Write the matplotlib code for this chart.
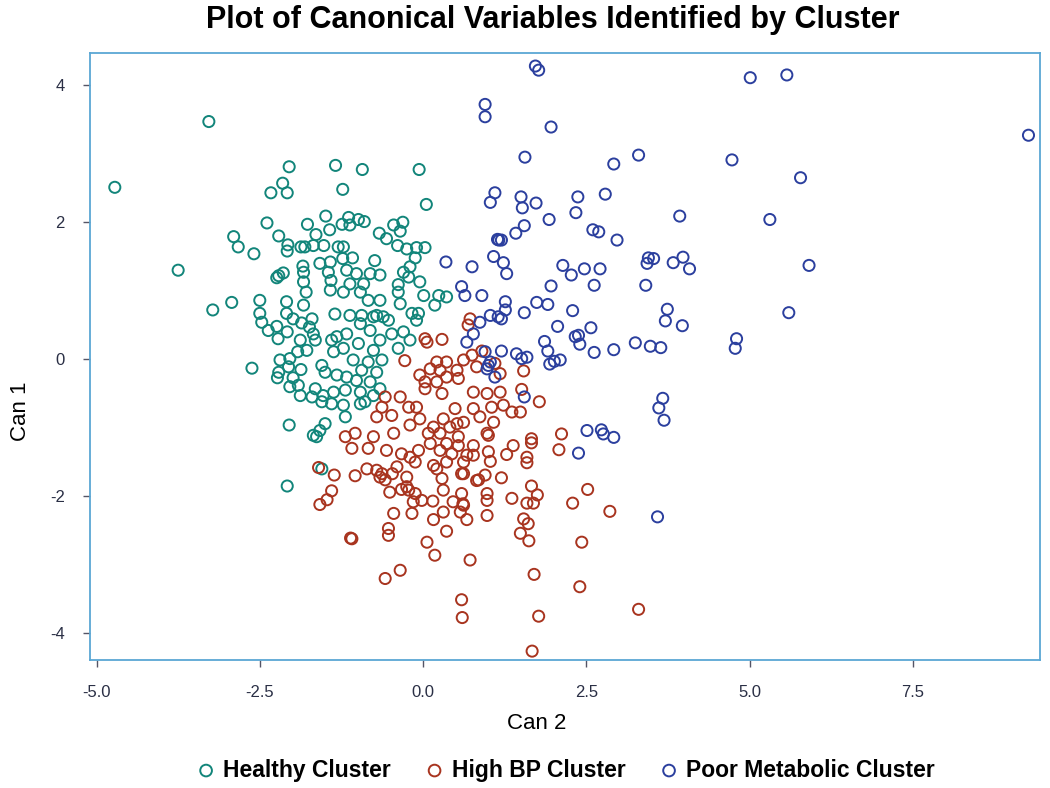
import matplotlib
matplotlib.use('Agg')
import matplotlib.pyplot as plt

plt.rcParams['font.family'] = ['Liberation Sans', 'DejaVu Sans']
plt.rcParams['axes.unicode_minus'] = False

# ── data (Can 2, Can 1) per cluster ──────────────────────────
healthy = [
    (-4.72, 2.51), (-3.28, 3.47), (-3.75, 1.30), (-3.22, 0.72), (-2.08, -1.85), (-2.05, -0.96),
    (-2.05, 2.81), (-1.34, 2.83), (-2.15, 2.57), (-2.33, 2.43), (-2.08, 2.43), (-1.23, 2.48),
    (-1.49, 2.09), (-2.39, 1.99), (-1.77, 1.97), (-1.43, 1.89), (-2.90, 1.79), (-2.83, 1.64),
    (-2.21, 1.80), (-1.64, 1.82), (-2.07, 1.67), (-2.08, 1.58), (-1.87, 1.64), (-1.81, 1.64),
    (-1.68, 1.66), (-1.52, 1.66), (-2.59, 1.54), (-1.58, 1.40), (-1.42, 1.42), (-1.84, 1.36),
    (-1.83, 1.27), (-2.21, 1.22), (-2.14, 1.26), (-2.24, 1.19), (-1.45, 1.27), (-1.83, 1.13),
    (-1.41, 1.15), (-1.30, 1.64),
    (-0.93, 2.77), (-0.06, 2.77), (0.05, 2.26), (-1.14, 2.07), (-0.99, 2.04), (-0.90, 2.01),
    (-1.24, 1.97), (-1.12, 1.96), (-0.45, 1.96), (-0.31, 2.00), (-0.35, 1.87), (-0.67, 1.84),
    (-0.56, 1.76), (-0.39, 1.66), (-0.25, 1.61), (-0.10, 1.63), (0.03, 1.63), (-0.12, 1.48),
    (-1.22, 1.64), (-1.08, 1.48), (-1.23, 1.47), (-0.74, 1.44), (-1.17, 1.30), (-1.02, 1.25),
    (-0.81, 1.25), (-0.66, 1.23), (-0.30, 1.27), (-0.20, 1.35), (-0.22, 1.20), (-0.05, 1.13),
    (-1.12, 1.10), (-0.91, 1.10), (-0.38, 1.09),
    (-2.93, 0.83), (-2.50, 0.86), (-2.50, 0.67), (-2.47, 0.54), (-2.37, 0.42), (-2.24, 0.48),
    (-2.22, 0.30), (-2.09, 0.84), (-2.09, 0.67), (-1.99, 0.59), (-2.08, 0.40), (-1.83, 0.79),
    (-1.79, 0.98), (-1.42, 1.01), (-1.86, 0.53), (-1.70, 0.59), (-1.74, 0.47), (-1.68, 0.37),
    (-1.65, 0.28), (-1.88, 0.28), (-1.35, 0.66), (-1.40, 0.28), (-1.32, 0.33), (-1.37, 0.11),
    (-1.78, 0.13), (-1.92, 0.11), (-2.19, -0.01), (-2.04, 0.01), (-2.62, -0.13), (-2.21, -0.19),
    (-2.23, -0.27), (-2.06, -0.11), (-1.87, -0.15), (-1.99, -0.27), (-1.55, -0.09), (-1.50, -0.19),
    (-1.32, -0.23), (-2.04, -0.40), (-1.91, -0.38), (-1.88, -0.53), (-1.65, -0.43), (-1.70, -0.55),
    (-1.53, -0.53), (-1.55, -0.62), (-1.40, -0.65), (-1.37, -0.48), (-1.50, -0.94), (-1.58, -1.04),
    (-1.68, -1.11), (-1.63, -1.13),
    (-1.22, 0.98), (-0.96, 0.98), (-0.84, 0.86), (-0.66, 0.86), (-0.38, 0.98), (-0.35, 0.81),
    (0.01, 0.93), (0.24, 0.93), (0.18, 0.79), (0.36, 0.91), (-1.12, 0.64), (-0.94, 0.64),
    (-0.76, 0.62), (-0.61, 0.62), (-0.17, 0.67), (-0.07, 0.67), (-0.10, 0.57), (-0.96, 0.52),
    (-0.81, 0.42), (-0.48, 0.37), (-0.66, 0.28), (-0.30, 0.40), (-0.20, 0.28), (-1.17, 0.37),
    (-0.99, 0.23), (-0.76, 0.13), (-0.38, 0.16), (-1.22, 0.16), (-1.07, -0.01), (-0.84, -0.04),
    (-0.63, -0.01), (-0.71, -0.19), (-0.94, -0.16), (-1.17, -0.26), (-1.02, -0.31), (-0.81, -0.33),
    (-1.19, -0.45), (-0.96, -0.48), (-0.66, -0.43), (-0.76, -0.53), (-0.89, -0.62), (-1.22, -0.67),
    (-1.19, -0.84), (-0.96, -0.65), (-0.71, 0.64), (-0.53, 0.57), (-1.55, -1.60),
]

high_bp = [
    (0.72, 0.59), (0.69, 0.50), (0.03, 0.30), (0.29, 0.29), (0.06, 0.25), (-0.28, -0.02),
    (0.21, -0.04), (0.36, -0.04), (0.11, -0.14), (0.26, -0.16), (-0.05, -0.23), (0.52, -0.16),
    (0.62, -0.01), (0.75, 0.06), (0.54, -0.28), (0.36, -0.26), (0.21, -0.33), (0.03, -0.33),
    (0.03, -0.43), (0.29, -0.50), (0.77, -0.48), (0.98, -0.50), (0.82, -0.11), (1.10, -0.06),
    (-0.58, -0.55), (-0.35, -0.55), (-0.22, -0.70), (-0.10, -0.70), (-0.63, -0.70), (-0.48, -0.82),
    (-0.71, -0.84), (-0.05, -0.87), (-0.20, -0.96), (0.49, -0.72), (0.77, -0.72), (0.87, -0.84),
    (1.08, -0.92), (0.31, -0.87), (0.16, -0.99), (0.41, -0.99), (0.52, -0.94), (0.08, -1.08),
    (0.26, -1.08), (0.98, -1.08), (-1.04, -1.08), (-0.76, -1.13), (-0.45, -1.08), (0.54, -1.13),
    (-1.19, -1.13),
    (-1.60, -1.58), (-1.36, -1.69), (-1.40, -1.92), (-1.47, -2.05), (-1.58, -2.12), (-1.09, -2.62),
    (-1.11, -2.61), (-1.04, -1.70), (-1.09, -1.30), (-0.84, -1.30), (-0.56, -1.33), (-0.86, -1.60),
    (-0.71, -1.62), (-0.63, -1.67), (-0.58, -1.76), (-0.40, -1.57), (-0.51, -1.94), (-0.33, -1.90),
    (-0.25, -1.72), (-0.22, -1.91), (-0.12, -1.96), (-0.15, -2.08), (-0.02, -2.06), (-0.17, -2.25),
    (-0.45, -2.25), (-0.53, -2.47), (-0.53, -2.57), (-0.35, -3.08), (-0.58, -3.20), (0.06, -2.67),
    (0.18, -2.86), (0.16, -2.34), (0.15, -2.07), (0.31, -2.23), (0.36, -2.51), (0.59, -1.96),
    (0.46, -2.08), (0.61, -2.11), (0.57, -2.23), (0.67, -2.34), (0.72, -2.93), (0.31, -1.91),
    (0.29, -1.74), (0.21, -1.60), (0.36, -1.50), (0.44, -1.38), (0.54, -1.26), (0.77, -1.26),
    (0.67, -1.40), (0.59, -1.67), (0.77, -1.40), (0.82, -1.77), (-0.33, -1.38), (-0.20, -1.43),
    (-0.12, -1.50), (-0.07, -1.33), (0.11, -1.23), (0.26, -1.33), (0.36, -1.23), (-0.25, -1.86),
    (0.16, -1.55), (-0.47, -1.67), (-0.66, -1.72),
    (1.00, -1.35), (1.03, -1.49), (1.28, -1.39), (1.38, -1.26), (1.66, -1.22), (1.59, -1.43),
    (1.59, -1.51), (2.08, -1.32), (0.62, -1.50), (0.62, -1.67), (0.85, -1.76), (0.95, -1.69),
    (1.20, -1.73), (1.66, -1.85), (1.75, -1.98), (1.59, -2.10), (1.69, -2.10), (1.36, -2.03),
    (0.98, -1.96), (0.98, -2.06), (0.62, -2.13), (0.98, -2.28), (1.54, -2.33), (1.61, -2.40),
    (1.49, -2.54), (1.62, -2.65), (2.52, -1.90), (2.29, -2.10), (2.86, -2.22), (2.43, -2.67),
    (1.70, -3.14), (2.40, -3.32), (3.30, -3.65), (0.59, -3.51), (0.60, -3.77), (1.77, -3.75),
    (1.67, -4.26),
    (0.90, 0.12), (1.18, -0.21), (1.54, -0.17), (1.18, -0.48), (1.51, -0.44), (1.78, -0.62),
    (1.05, -0.70), (1.23, -0.67), (1.36, -0.77), (1.49, -0.77), (1.00, -1.11), (0.62, -0.92),
    (1.66, -1.16), (2.12, -1.09),
]

poor_metabolic = [
    (1.10, 2.43), (1.03, 2.29), (0.35, 1.42), (0.75, 1.35), (1.08, 1.50), (1.14, 1.75), (0.59, 1.06),
    (0.90, 0.93), (0.64, 0.93), (0.87, 0.54), (1.03, 0.64), (1.15, 0.62), (0.67, 0.25), (0.77, 0.37),
    (0.95, 0.11), (1.03, -0.04), (0.98, -0.14), (1.10, -0.26),
    (1.26, 0.84), (1.26, 0.72), (1.74, 0.83), (1.91, 0.80), (1.55, 0.68), (1.20, 0.59), (2.06, 0.48),
    (1.86, 0.26), (1.91, 0.12), (1.20, 0.12), (1.43, 0.08), (1.51, 0.01), (1.59, 0.03), (1.00, -0.09),
    (1.94, -0.07), (2.01, -0.03), (1.55, -0.55),
    (2.29, 0.71), (2.57, 0.46), (2.33, 0.33), (2.38, 0.35), (2.40, 0.22), (2.62, 0.10), (2.92, 0.14),
    (3.25, 0.24), (3.48, 0.19), (3.64, 0.17), (3.74, 0.73), (3.71, 0.56), (3.97, 0.49), (3.67, -0.57),
    (3.61, -0.71), (3.69, -0.89), (2.51, -1.04), (2.73, -1.03), (2.76, -1.09), (2.92, -1.14),
    (2.38, -1.37), (3.59, -2.30), (2.10, -0.01),
    (1.72, 4.28), (1.77, 4.22), (0.95, 3.72), (0.95, 3.54), (1.96, 3.39), (1.56, 2.95), (2.92, 2.85),
    (3.30, 2.98), (1.50, 2.37), (1.52, 2.21), (1.73, 2.28), (2.37, 2.37), (2.34, 2.14), (2.79, 2.41),
    (1.93, 2.04), (1.55, 1.95), (1.42, 1.84), (1.16, 1.74), (1.20, 1.74), (2.60, 1.89), (2.69, 1.86),
    (2.97, 1.74), (3.45, 1.48), (3.53, 1.47), (3.43, 1.40), (1.23, 1.41), (1.28, 1.25), (2.14, 1.37),
    (2.27, 1.23), (2.47, 1.32), (2.71, 1.32), (1.96, 1.07), (2.62, 1.08), (3.41, 1.08),
    (5.01, 4.11), (5.57, 4.15), (9.27, 3.27), (4.73, 2.91), (5.78, 2.65), (3.93, 2.09), (5.31, 2.04),
    (3.98, 1.49), (3.83, 1.41), (4.08, 1.32), (5.91, 1.37), (5.60, 0.68), (4.80, 0.30), (4.78, 0.16),
]

clusters = ['Healthy Cluster', 'High BP Cluster', 'Poor Metabolic Cluster']
colors = ['#12857A', '#A8341F', '#2B3F9E']

fig = plt.figure(figsize=(10.5, 7.88), dpi=100)
ax = fig.add_axes([0.0857, 0.1624, 0.905, 0.7703])

handles = []
for pts, name, c in zip([healthy, high_bp, poor_metabolic], clusters, colors):
    xs = [p[0] for p in pts]
    ys = [p[1] for p in pts]
    h = ax.scatter(xs, ys, s=64, facecolors='none', edgecolors=c,
                   linewidths=1.4, label=name)
    handles.append(h)

ax.set_xlim(-5.10, 9.45)
ax.set_ylim(-4.39, 4.47)
ax.set_xticks([-5.0, -2.5, 0.0, 2.5, 5.0, 7.5])
ax.set_xticklabels(['-5.0', '-2.5', '0.0', '2.5', '5.0', '7.5'])
ax.set_yticks([-4, -2, 0, 2, 4])

for sp in ax.spines.values():
    sp.set_color('#5BA7D4')
    sp.set_linewidth(1.3)
ax.tick_params(colors='#555566', labelcolor='#2a2f45', labelsize=12,
               length=5, width=1)
ax.tick_params(axis='x', pad=13)
ax.tick_params(axis='y', pad=13)

ax.set_xlabel('Can 2', fontsize=16)
ax.set_ylabel('Can 1', fontsize=16)
ax.xaxis.set_label_coords(0.47, -0.088)
ax.yaxis.set_label_coords(-0.062, 0.41)

fig.text(0.526, 0.994, 'Plot of Canonical Variables Identified by Cluster',
         fontsize=22, fontweight='bold', ha='center', va='top')

fig.legend(handles=handles, labels=clusters, loc='lower center',
           bbox_to_anchor=(0.539, -0.018), ncol=3, frameon=False,
           prop={'weight': 'bold', 'size': 16.5}, handlelength=0.8,
           handletextpad=0.35, columnspacing=1.5, markerscale=1.05)

fig.savefig('out.png', dpi=100)
